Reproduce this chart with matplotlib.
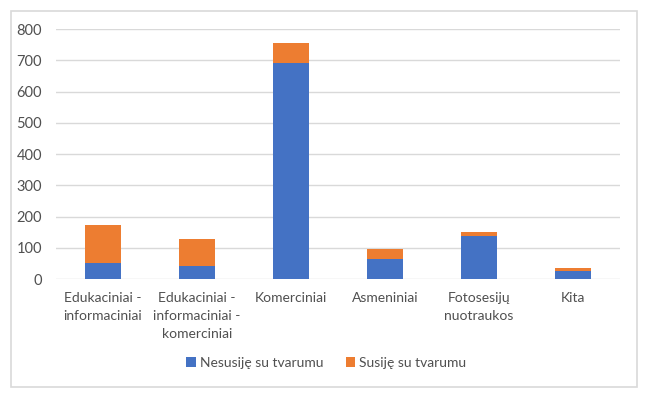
import matplotlib.pyplot as plt
import numpy as np
from matplotlib.patches import Rectangle

plt.rcParams['font.family'] = ['Lato', 'DejaVu Sans']

categories = ['Edukaciniai -\ninformaciniai', 'Edukaciniai -\ninformaciniai -\nkomerciniai',
              'Komerciniai', 'Asmeniniai', 'Fotosesijų\nnuotraukos', 'Kita']
nesusije = [50, 42, 690, 63, 138, 27]
susije = [122, 86, 66, 34, 13, 8]
yticks = [0, 100, 200, 300, 400, 500, 600, 700, 800]

blue = '#4472C4'
orange = '#ED7D31'
txt = '#505050'

fig = plt.figure(figsize=(6.5, 3.93), dpi=100)
ax = fig.add_axes([0.086, 0.29, 0.868, 0.636])

x = np.arange(len(categories))
ax.bar(x, nesusije, width=0.38, color=blue, label='Nesusiję su tvarumu', zorder=3)
ax.bar(x, susije, width=0.38, bottom=nesusije, color=orange, label='Susiję su tvarumu', zorder=3)

ax.set_ylim(0, 800)
ax.set_xlim(-0.5, len(categories) - 0.5)
ax.set_yticks(yticks)
ax.set_xticks(x)
ax.set_xticklabels(categories, fontsize=10, color=txt, linespacing=1.6)
ax.tick_params(axis='y', labelsize=10.5, labelcolor=txt, length=0, pad=10)
ax.tick_params(axis='x', length=0, pad=9)
ax.grid(axis='y', color='#D9D9D9', linewidth=1, zorder=0)
for s in ax.spines.values():
    s.set_visible(False)

ax.legend(loc='center', bbox_to_anchor=(0.502, 0.076), bbox_transform=fig.transFigure,
          ncol=2, frameon=False, fontsize=10, labelcolor=txt,
          handlelength=0.7, handleheight=0.7, handletextpad=0.3, columnspacing=1.6)

fig.patches.append(Rectangle((11 / 650, 1 - 387 / 393), 626 / 650, 376 / 393,
                             transform=fig.transFigure, fill=False,
                             edgecolor='#D9D9D9', linewidth=1.2))

fig.savefig('out.png', dpi=100)
